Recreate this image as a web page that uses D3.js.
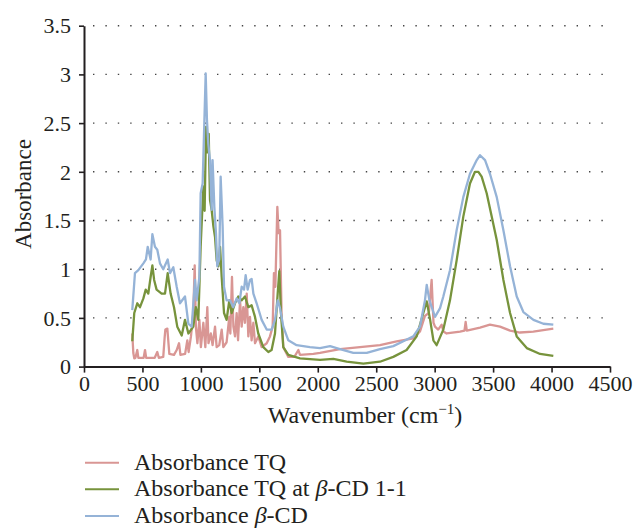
<!DOCTYPE html>
<html>
<head>
	<meta http-equiv="Content-Type" content="text/html;charset=UTF-8">
	<title>Absorbance spectra</title>
	<style>
		body { margin: 0; background: #fff; }
	</style>
</head>
<body>
	<div class="chart"></div>

	<script src="https://d3js.org/d3.v7.min.js"></script>
	<script>

		/* Data: [wavenumber, absorbance] */
		var tqData = [
			[413,0.34],[422,0.14],[430,0.085],[440,0.09],[456,0.17],[465,0.09],[490,0.09],[510,0.09],[522,0.17],
			[532,0.09],[579,0.09],[605,0.09],[627,0.15],[640,0.09],[678,0.10],[690,0.30],[696,0.38],[713,0.39],
			[722,0.25],[730,0.13],[770,0.12],[793,0.17],[813,0.24],[825,0.12],[865,0.13],[884,0.27],[895,0.15],
			[915,0.31],[935,0.55],[947,1.04],[957,0.41],[970,0.24],[987,0.48],[1000,0.20],[1021,0.45],[1038,0.20],
			[1055,0.61],[1065,0.24],[1085,0.34],[1100,0.22],[1121,0.41],[1135,0.20],[1157,0.22],[1178,0.38],
			[1192,0.20],[1220,0.25],[1243,0.51],[1252,0.34],[1266,0.92],[1278,0.41],[1292,0.31],[1306,0.55],
			[1318,0.27],[1335,0.68],[1349,0.41],[1363,0.61],[1377,0.45],[1392,0.75],[1406,0.31],[1420,0.51],
			[1434,0.27],[1449,0.45],[1463,0.24],[1491,0.31],[1520,0.20],[1563,0.24],[1591,0.31],[1614,0.41],
			[1625,0.96],[1637,0.82],[1654,1.64],[1665,1.37],[1677,1.40],[1690,0.55],[1705,0.20],[1748,0.10],
			[1800,0.10],[1834,0.17],[1848,0.12],[1962,0.13],[2019,0.14],[2190,0.18],[2361,0.20],[2532,0.22],
			[2675,0.26],[2817,0.29],[2874,0.36],[2917,0.52],[2950,0.55],[2974,0.89],[2990,0.45],[3003,0.41],
			[3030,0.38],[3060,0.43],[3075,0.36],[3102,0.34],[3217,0.36],[3255,0.37],[3265,0.46],[3275,0.37],
			[3388,0.40],[3473,0.43],[3559,0.41],[3645,0.37],[3730,0.35],[3844,0.36],[4015,0.39]
		];

		var complexData = [
			[413,0.26],[430,0.55],[456,0.65],[479,0.61],[508,0.70],[528,0.79],[550,0.75],[570,0.92],[585,1.04],
			[600,0.89],[621,0.79],[664,0.75],[693,0.75],[716,0.96],[741,0.75],[770,0.61],[798,0.41],[836,0.32],
			[864,0.48],[893,0.34],[935,0.41],[957,0.61],[978,0.48],[998,1.23],[1021,1.85],[1032,1.60],[1044,2.46],
			[1055,2.20],[1067,2.39],[1078,1.71],[1092,1.61],[1107,1.44],[1121,1.33],[1135,1.09],[1150,1.03],
			[1164,1.23],[1178,0.92],[1198,0.55],[1220,0.48],[1243,0.68],[1263,0.55],[1292,0.65],[1320,0.72],
			[1349,0.68],[1377,0.72],[1406,0.61],[1434,0.63],[1463,0.51],[1491,0.34],[1534,0.20],[1577,0.15],
			[1605,0.17],[1634,0.34],[1657,0.75],[1671,0.98],[1685,0.55],[1705,0.20],[1748,0.12],[1848,0.085],
			[2019,0.07],[2133,0.08],[2247,0.05],[2390,0.03],[2532,0.05],[2646,0.10],[2760,0.17],[2846,0.31],
			[2903,0.55],[2932,0.67],[2960,0.49],[2989,0.27],[3017,0.22],[3074,0.38],[3131,0.68],[3188,1.09],
			[3245,1.54],[3302,1.88],[3345,2.00],[3374,2.00],[3402,1.95],[3445,1.78],[3488,1.54],[3531,1.30],
			[3588,0.89],[3645,0.55],[3702,0.31],[3788,0.19],[3902,0.13],[4015,0.11]
		];

		var betaData = [
			[413,0.58],[436,0.96],[465,0.99],[508,1.06],[530,1.10],[545,1.23],[570,1.10],[585,1.36],[607,1.23],
			[627,1.20],[650,1.06],[678,1.00],[716,1.10],[736,0.96],[764,1.02],[793,0.82],[821,0.65],[864,0.72],
			[893,0.44],[921,0.41],[950,0.89],[964,0.68],[987,0.92],[998,1.78],[1015,1.88],[1041,3.01],[1052,2.53],
			[1063,2.29],[1078,2.12],[1092,1.61],[1100,2.12],[1115,1.64],[1129,1.37],[1140,1.03],[1157,1.10],
			[1169,1.95],[1186,1.44],[1198,0.82],[1220,0.68],[1249,0.68],[1277,0.61],[1306,0.70],[1329,0.65],
			[1349,0.82],[1369,0.79],[1383,0.94],[1400,0.79],[1420,0.89],[1434,0.90],[1449,0.75],[1477,0.65],
			[1520,0.48],[1563,0.38],[1605,0.38],[1634,0.48],[1657,0.68],[1677,0.60],[1705,0.41],[1748,0.27],
			[1819,0.22],[1933,0.20],[2019,0.19],[2105,0.21],[2190,0.18],[2304,0.14],[2419,0.14],[2532,0.18],
			[2646,0.21],[2732,0.26],[2817,0.31],[2874,0.41],[2917,0.68],[2932,0.84],[2955,0.68],[3003,0.51],
			[3046,0.60],[3074,0.72],[3131,0.99],[3188,1.40],[3245,1.74],[3302,1.98],[3360,2.12],[3388,2.17],
			[3431,2.12],[3473,1.98],[3531,1.74],[3588,1.40],[3645,1.03],[3702,0.72],[3759,0.56],[3845,0.48],
			[3930,0.44],[4015,0.43]
		];

		var seriesNames = ["Absorbance TQ", "Absorbance TQ at \u03b2-CD 1-1", "Absorbance \u03b2-CD"];
		var seriesColors = ["#d99694", "#77933c", "#95b3d7"];
		var xTicks = [0, 500, 1000, 1500, 2000, 2500, 3000, 3500, 4000, 4500];
		var yTicks = [0, 0.5, 1, 1.5, 2, 2.5, 3, 3.5];

		var w = 637;
		var h = 529;
		var serif = '"Liberation Serif", "Times New Roman", serif';
		var ink = "#231f20";

		var SVG = d3.select("div.chart").append("svg")
					.attr("width", w)
					.attr("height", h);

		var xSCALE = d3.scaleLinear().domain([0, 4500]).range([84, 610]);
		var ySCALE = d3.scaleLinear().domain([0, 3.5]).range([366.6, 25.7]);

		/* dotted gridlines */
		SVG.append("g").selectAll("line")
			.data(yTicks.slice(1))
			.enter().append("line")
			.attr("x1", 93).attr("x2", 612)
			.attr("y1", function(d){ return ySCALE(d); })
			.attr("y2", function(d){ return ySCALE(d); })
			.attr("stroke", "#444")
			.attr("stroke-width", 1.4)
			.attr("stroke-dasharray", "1.4,11");

		/* spectra */
		var line = d3.line()
					.x(function(d){ return xSCALE(d[0]); })
					.y(function(d){ return ySCALE(d[1]); });

		[tqData, complexData, betaData].forEach(function(data, i){
			SVG.append("path")
				.datum(data)
				.attr("d", line)
				.attr("fill", "none")
				.attr("stroke", seriesColors[i])
				.attr("stroke-width", 2.3)
				.attr("stroke-linejoin", "round");
		});

		/* axes */
		var xAxis = d3.axisBottom(xSCALE).tickValues(xTicks).tickSize(6).tickSizeOuter(0)
					.tickFormat(function(d){ return String(d); });
		var yAxis = d3.axisLeft(ySCALE).tickValues(yTicks).tickSize(5).tickSizeOuter(0)
					.tickFormat(function(d){ return String(d); });

		var gx = SVG.append("g")
			.attr("transform", "translate(0," + ySCALE(0) + ")")
			.call(xAxis);
		var gy = SVG.append("g")
			.attr("transform", "translate(" + xSCALE(0) + ",0)")
			.call(yAxis);

		[gx, gy].forEach(function(g){
			g.select(".domain").attr("stroke", ink).attr("stroke-width", 2);
			g.selectAll(".tick line").attr("stroke", ink).attr("stroke-width", 1.6);
			g.selectAll(".tick text")
				.style("font-family", serif)
				.style("font-size", "22px")
				.attr("fill", ink);
		});
		gx.selectAll(".tick text").attr("y", 24).attr("dy", 0);
		gy.selectAll(".tick text").attr("x", -13).attr("dy", "0.33em");

		/* axis titles */
		var xTitle = SVG.append("text")
			.attr("x", 365).attr("y", 423)
			.attr("text-anchor", "middle")
			.attr("fill", ink)
			.style("font-family", serif)
			.style("font-size", "24px")
			.text("Wavenumber (cm");
		xTitle.append("tspan").style("font-size", "15px").attr("dy", -9).text("\u22121");
		xTitle.append("tspan").attr("dy", 9).text(")");

		SVG.append("text")
			.attr("transform", "translate(31,194) rotate(-90)")
			.attr("text-anchor", "middle")
			.attr("fill", ink)
			.style("font-family", serif)
			.style("font-size", "23px")
			.text("Absorbance");

		/* legend */
		var legend = SVG.append("g").selectAll("g")
			.data(seriesNames)
			.enter().append("g")
			.attr("transform", function(d, i){ return "translate(0," + (462.7 + i * 26.6) + ")"; });

		legend.append("line")
			.attr("x1", 85).attr("x2", 119)
			.attr("stroke", function(d, i){ return seriesColors[i]; })
			.attr("stroke-width", 2);

		legend.append("text")
			.attr("x", 134).attr("y", 7)
			.attr("fill", ink)
			.style("font-family", serif)
			.style("font-size", "24px")
			.each(function(d){
				var parts = d.split("\u03b2");
				var t = d3.select(this);
				t.append("tspan").text(parts[0]);
				if (parts.length > 1) {
					t.append("tspan").style("font-style", "italic").text("\u03b2");
					t.append("tspan").text(parts[1]);
				}
			});

	</script>
</body>
</html>
